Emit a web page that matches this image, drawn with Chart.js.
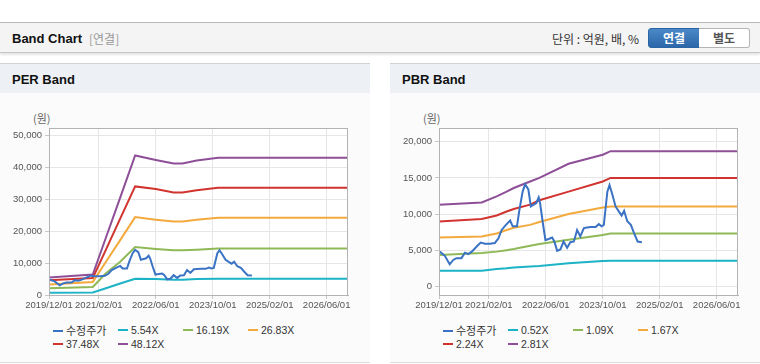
<!DOCTYPE html>
<html>
<head>
<meta charset="utf-8">
<script src="https://cdn.jsdelivr.net/npm/chart.js@4.4.1/dist/chart.umd.min.js"></script>
<style>
  body { margin:0; width:760px; height:364px; background:#fff; position:relative; overflow:hidden;
         font-family:"Liberation Sans","Noto Sans CJK KR",sans-serif; }
  #hdr { position:absolute; left:0; top:22px; width:760px; height:29px; background:#f4f4f4;
         border-top:1px solid #b9b9b9; border-bottom:1px solid #c6c6c6; box-shadow:0 2px 2px rgba(0,0,0,.10); }
  #hdr .t { position:absolute; left:12px; top:1px; line-height:29px; font-size:13px; font-weight:bold; color:#111; }
  #hdr .s { position:absolute; left:89px; top:1px; line-height:29px; font-size:12px; color:#999; font-family:"Noto Sans CJK KR"; }
  #hdr .u { position:absolute; left:552px; top:1px; line-height:29px; font-size:12px; color:#333; font-family:"Noto Sans CJK KR"; }
  .btn { position:absolute; top:5px; height:18px; width:50px; line-height:18px; text-align:center;
         font-size:12px; font-weight:bold; font-family:"Noto Sans CJK KR"; box-sizing:content-box; }
  #b1 { left:648px; background:linear-gradient(#4a88c8,#2c68a9); color:#fff; border:1px solid #2a64a2; border-radius:3px 0 0 3px; }
  #b2 { left:699px; background:#fff; color:#555; border:1px solid #b5b5b5; border-left:none; border-radius:0 3px 3px 0; }
  .panel { position:absolute; top:63px; width:370px; height:298px; background:#fbfbfb;
           border-top:1px solid #d2d2d2; border-bottom:1px solid #dcdcdc; }
  .panel .ttl { height:29px; line-height:31px; background:#edf1f6; padding-left:12px;
                font-size:13px; font-weight:bold; color:#111; }
  .unit { position:absolute; top:110px; font-size:11px; color:#666; font-family:"Noto Sans CJK KR"; }
  canvas { position:absolute; top:100px; }
  .legend { position:absolute; top:324px; width:300px; }
  .legend .it { position:absolute; height:13px; line-height:13px; font-size:10.5px; color:#333; white-space:nowrap; }
  .legend .it i { display:inline-block; width:10px; height:2px; vertical-align:middle; margin-right:3px; position:relative; top:-1px; }
  .legend .it span.k { font-family:"Noto Sans CJK KR"; font-size:11px; }
</style>
</head>
<body>
<div id="hdr">
  <div class="t">Band Chart</div>
  <div class="s">[연결]</div>
  <div class="u">단위 : 억원, 배, %</div>
  <div class="btn" id="b1">연결</div>
  <div class="btn" id="b2">별도</div>
</div>
<div class="panel" style="left:0"><div class="ttl">PER Band</div></div>
<div class="panel" style="left:390px"><div class="ttl">PBR Band</div></div>
<div class="unit" style="left:33px">(원)</div>
<div class="unit" style="left:423px">(원)</div>
<canvas id="per" width="370" height="220" style="left:0"></canvas>
<canvas id="pbr" width="370" height="220" style="left:390px"></canvas>
<div class="legend" id="perLegend" style="left:53px"></div>
<div class="legend" id="pbrLegend" style="left:443px"></div>

<script>
// x axis: months counted from the first date
const xStart = '2019/12/01';
const xEnd = '2026/12/01';
const xTickLabels = ['2019/12/01', '2021/02/01', '2022/06/01', '2023/10/01', '2025/02/01', '2026/06/01'];

// 수정주가 (adjusted price), month offset from 2019/12
const priceMonth = [0.2, 1.6, 3.0, 4.0, 4.9, 6.3, 7.3, 8.2, 9.2, 10.6, 11.7, 12.9, 14.3, 15.7, 16.7, 17.6,
  18.8, 20.0, 20.7, 21.9, 22.6, 23.5, 24.2, 25.1, 25.8, 26.6, 27.3, 28.0, 28.4, 29.1, 29.9, 30.8, 31.8,
  32.4, 33.2, 34.1, 35.0, 36.0, 36.9, 37.9, 38.8, 39.7, 40.7, 41.6, 42.6, 44.0, 44.9, 45.7, 46.3, 46.8,
  47.3, 47.9, 48.7, 49.6, 50.6, 51.3, 52.0, 52.9, 53.9, 54.8, 55.8, 57.0];
const priceWon = [4800, 4250, 3050, 3650, 3900, 3900, 4650, 4450, 4800, 5500, 6050, 5900, 5900, 6000, 6650, 7800,
  8500, 9100, 8300, 8300, 10600, 13100, 14100, 13400, 11050, 11300, 11500, 12300, 11500, 9000, 6400, 6550, 6750,
  6200, 4900, 5100, 6200, 5350, 6100, 6200, 7800, 6900, 8050, 8150, 8200, 8200, 8600, 8300, 8500, 10800,
  13100, 14000, 12700, 11050, 10300, 9800, 10450, 9000, 8500, 7350, 6200, 6100];

// PER band
const perLabels = ['5.54X', '16.19X', '26.83X', '37.48X', '48.12X'];
const perMonth = [0, 12.3, 16, 20, 24.2, 30, 35, 37.5, 41.5, 47.5, 84];
const per554  = [700, 800, 2100, 3600, 5100, 5000, 4800, 4800, 5000, 5100, 5100];
const per1619 = [2100, 2500, 6800, 10400, 15000, 14400, 14000, 14000, 14200, 14600, 14600];
const per2683 = [3300, 4100, 10400, 17200, 24400, 23600, 23000, 23000, 23600, 24200, 24200];
const per3748 = [4600, 5300, 14200, 23900, 34000, 33200, 32100, 32100, 32800, 33600, 33600];
const per4812 = [5500, 6400, 18000, 30500, 43700, 42300, 41200, 41200, 42100, 43000, 43000];
const perYTicks = [0, 10000, 20000, 30000, 40000, 50000];

// PBR band
const pbrLabels = ['0.52X', '1.09X', '1.67X', '2.24X', '2.81X'];
const pbrMonth = [0, 12, 16.2, 19, 21, 25.6, 28.2, 36.4, 46, 48.2, 84];
const pbr052 = [2170, 2170, 2400, 2500, 2600, 2750, 2800, 3200, 3500, 3550, 3550];
const pbr109 = [4350, 4600, 4800, 5000, 5150, 5600, 5850, 6450, 7100, 7300, 7300];
const pbr167 = [6750, 6900, 7300, 7800, 8100, 8500, 8900, 10000, 10900, 11050, 11050];
const pbr224 = [8950, 9300, 9800, 10350, 10700, 11300, 11900, 13100, 14500, 15000, 15000];
const pbr281 = [11300, 11600, 12450, 13100, 13600, 14500, 15000, 16950, 18200, 18700, 18700];
const pbrYTicks = [0, 5000, 10000, 15000, 20000];

const PRICE_LABEL = '수정주가';
const COLORS = ['#3b73c4', '#1db3c6', '#8fb957', '#f3a93c', '#d1332e', '#8e4f98'];

function monthIndex(s) {
  const [y, m] = s.split('/').map(Number);
  const [y0, m0] = xStart.split('/').map(Number);
  return (y - y0) * 12 + (m - m0);
}
const pts = (xs, ys) => xs.map((x, i) => ({ x, y: ys[i] }));

const framePlugin = {
  id: 'frame',
  beforeDraw(c) {
    const a = c.chartArea, ctx = c.ctx;
    ctx.save();
    ctx.fillStyle = '#fff';
    ctx.fillRect(a.left, a.top, a.right - a.left, a.bottom - a.top);
    ctx.restore();
  },
  afterDraw(c) {
    const a = c.chartArea, ctx = c.ctx;
    ctx.save();
    ctx.strokeStyle = '#b3b3b3';
    ctx.lineWidth = 1;
    ctx.strokeRect(a.left + 0.5, a.top + 0.5, a.right - a.left - 1, a.bottom - a.top);
    ctx.restore();
  }
};

function makeChart(id, legendId, bandMonth, bands, labels, yMin, yMax, yTicks) {
  const series = [pts(priceMonth, priceWon)].concat(bands.map(b => pts(bandMonth, b)));
  const names = [PRICE_LABEL].concat(labels);
  const tickFont = { family: 'Liberation Sans', size: 9.5 };
  const chart = new Chart(document.getElementById(id), {
    type: 'line',
    data: {
      datasets: series.map((d, i) => ({
        label: names[i], data: d, borderColor: COLORS[i], backgroundColor: COLORS[i],
        borderWidth: 2, pointRadius: 0, tension: 0, fill: false
      }))
    },
    options: {
      responsive: false, animation: false, parsing: false,
      layout: { padding: { left: 0, right: 22, top: 28, bottom: 0 } },
      plugins: { legend: { display: false }, tooltip: { enabled: false } },
      scales: {
        x: {
          type: 'linear', min: monthIndex(xStart), max: monthIndex(xEnd),
          afterBuildTicks: ax => { ax.ticks = xTickLabels.map(l => ({ value: monthIndex(l) })); },
          afterFit: ax => { ax.height = 25; },
          ticks: {
            autoSkip: false, maxRotation: 0, padding: 1, color: '#555', font: tickFont,
            callback: v => xTickLabels.find(l => monthIndex(l) === v) || ''
          },
          grid: { color: '#e6e6e6', tickLength: 4, tickColor: '#c8c8c8' },
          border: { color: '#b3b3b3' }
        },
        y: {
          min: yMin, max: yMax,
          afterBuildTicks: ax => { ax.ticks = yTicks.map(v => ({ value: v })); },
          afterFit: ax => { ax.width = 49; },
          ticks: { padding: 3, color: '#555', font: tickFont, callback: v => v.toLocaleString('en-US') },
          grid: { color: '#e6e6e6', tickLength: 4, tickColor: '#c8c8c8' },
          border: { color: '#b3b3b3' }
        }
      }
    },
    plugins: [framePlugin]
  });

  // html legend, 4 items per row
  const lg = document.getElementById(legendId);
  lg.innerHTML = chart.data.datasets.map((ds, i) => {
    const txt = i === 0 ? `<span class="k">${ds.label}</span>` : ds.label;
    return `<div class="it" style="left:${(i % 4) * 65}px;top:${Math.floor(i / 4) * 13.5}px">` +
           `<i style="background:${ds.borderColor}"></i>${txt}</div>`;
  }).join('');
  return chart;
}

makeChart('per', 'perLegend', perMonth, [per554, per1619, per2683, per3748, per4812], perLabels, 0, 52300, perYTicks);
makeChart('pbr', 'pbrLegend', pbrMonth, [pbr052, pbr109, pbr167, pbr224, pbr281], pbrLabels, -1200, 21900, pbrYTicks);
</script>
</body>
</html>
